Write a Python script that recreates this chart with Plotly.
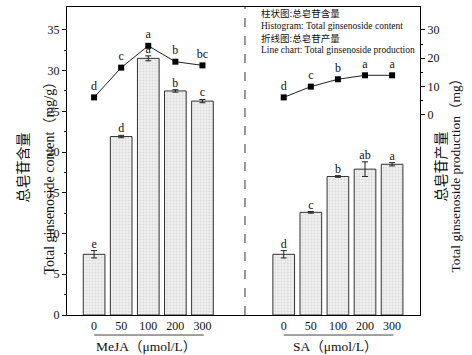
import plotly.graph_objects as go

# ---- data ----
groups = ["MeJA（μmol/L）", "SA（μmol/L）"]
conc_labels = ["0", "50", "100", "200", "300"]
meja_content = [7.45, 21.9, 31.5, 27.5, 26.25]
meja_content_err = [0.45, 0.15, 0.3, 0.15, 0.2]
meja_content_sig = ["e", "d", "a", "b", "c"]
sa_content = [7.45, 12.6, 17.0, 17.9, 18.5]
sa_content_err = [0.45, 0.1, 0.1, 0.9, 0.2]
sa_content_sig = ["d", "c", "b", "ab", "a"]
meja_prod = [6.2, 16.7, 24.4, 18.8, 17.5]
meja_prod_sig = ["d", "c", "a", "b", "bc"]
sa_prod = [6.2, 10.0, 12.6, 14.0, 14.0]
sa_prod_sig = ["d", "c", "b", "a", "a"]

legend_lines = ["柱状图:总皂苷含量", "Histogram: Total ginsenoside content",
                "折线图:总皂苷产量", "Line chart: Total ginsenoside production"]

FONT = "Liberation Serif, Times New Roman, Noto Sans CJK SC, serif"

left_x = [0, 1, 2, 3, 4]
right_x = [7, 8, 9, 10, 11]

fig = go.Figure()
bar_style = dict(marker=dict(color="#e6e6e6", line=dict(color="#333333", width=1),
                             pattern=dict(shape=".", fgcolor="#c8c8c8", bgcolor="#efefef",
                                          size=3, solidity=0.3)),
                 width=0.8, showlegend=False)
err_style = dict(type="data", visible=True, color="#222222", thickness=1, width=3)

for xs, vals, errs, sig in [(left_x, meja_content, meja_content_err, meja_content_sig),
                            (right_x, sa_content, sa_content_err, sa_content_sig)]:
    fig.add_trace(go.Bar(x=xs, y=vals, error_y=dict(array=errs, **err_style), **bar_style))
    fig.add_trace(go.Scatter(x=xs, y=[v + e for v, e in zip(vals, errs)], mode="text",
                             text=sig, textposition="top center",
                             textfont=dict(family=FONT, size=12, color="#111"),
                             showlegend=False, cliponaxis=False))

for xs, vals, sig in [(left_x, meja_prod, meja_prod_sig), (right_x, sa_prod, sa_prod_sig)]:
    fig.add_trace(go.Scatter(x=xs, y=vals, yaxis="y2", mode="lines+markers+text",
                             line=dict(color="#222222", width=1),
                             marker=dict(symbol="square", size=6, color="#000"),
                             text=sig, textposition="top center",
                             textfont=dict(family=FONT, size=12, color="#111"),
                             showlegend=False, cliponaxis=False))

axis_font = dict(family=FONT, size=12, color="#111")
fig.update_layout(
    width=472, height=355,
    margin=dict(l=67, r=52, t=7, b=40, autoexpand=False),
    plot_bgcolor="white", paper_bgcolor="white",
    font=dict(family=FONT, color="#111"),
    xaxis=dict(range=[-1, 12.03], tickvals=left_x + right_x, ticktext=conc_labels + conc_labels,
               showline=True, linecolor="#000", linewidth=1, mirror=True, ticks="",
               showgrid=False, zeroline=False, tickfont=axis_font, automargin=False),
    yaxis=dict(range=[0, 37.8], tickvals=[0, 5, 10, 15, 20, 25, 30, 35], showline=True,
               linecolor="#000", linewidth=1, ticks="outside", ticklen=4, tickcolor="#000",
               minor=dict(tickvals=[2.5, 7.5, 12.5, 17.5, 22.5, 27.5, 32.5], ticks="outside",
                          ticklen=2, tickcolor="#000"),
               showgrid=False, zeroline=False, tickfont=axis_font, automargin=False),
    yaxis2=dict(range=[-70.6, 38.1], overlaying="y", side="right", tickvals=[0, 10, 20, 30],
                showline=True, linecolor="#000", linewidth=1, ticks="outside", ticklen=4,
                tickcolor="#000",
                minor=dict(tickvals=[5, 15, 25], ticks="outside", ticklen=2, tickcolor="#000"),
                showgrid=False, zeroline=False, tickfont=axis_font, automargin=False),
    bargap=0.2,
)

# dashed separator
fig.add_shape(type="line", xref="x", yref="paper", x0=5.57, x1=5.57, y0=0, y1=1,
              line=dict(color="#333", width=1, dash="dash"))

# group lines and labels
for xs, name in [(left_x, groups[0]), (right_x, groups[1])]:
    fig.add_shape(type="line", xref="x", yref="paper", x0=xs[0], x1=xs[-1] + 0.05,
                  y0=-0.065, y1=-0.065, line=dict(color="#444", width=1))
    fig.add_annotation(x=(xs[0] + xs[-1]) / 2 - 0.1, xref="x", y=-0.103, yref="paper",
                       text=name, showarrow=False, yanchor="middle",
                       font=dict(family=FONT, size=13.5, color="#111"))

# legend text block
for i, t in enumerate(legend_lines):
    fig.add_annotation(x=(259 - 67) / 353, xref="paper", y=(315 - (14 + i * 12)) / 308,
                       yref="paper", text=t, showarrow=False, xanchor="left",
                       yanchor="middle", font=dict(family=FONT, size=9.5, color="#111"))

# axis titles
title_font = dict(family=FONT, size=14, color="#111")
fig.add_annotation(x=0, xref="paper", y=(315 - 168) / 308, yref="paper",
                   text="总皂苷含量", textangle=-90, showarrow=False,
                   xshift=13 - 67, font=title_font)
fig.add_annotation(x=0, xref="paper", y=(315 - 175) / 308, yref="paper",
                   text="Total ginsenoside content（mg/g）", textangle=-90, showarrow=False,
                   xshift=39 - 67, font=title_font)
fig.add_annotation(x=1, xref="paper", y=(315 - 167) / 308, yref="paper",
                   text="总皂苷产量", textangle=-90, showarrow=False,
                   xshift=451 - 420, font=title_font)
fig.add_annotation(x=1, xref="paper", y=(315 - 172) / 308, yref="paper",
                   text="Total ginsenoside production（mg）", textangle=-90, showarrow=False,
                   xshift=464 - 420, font=dict(family=FONT, size=13.5, color="#111"))

fig.write_html("out.html", config={"displayModeBar": False},
               post_script="document.body.style.margin='0';")
